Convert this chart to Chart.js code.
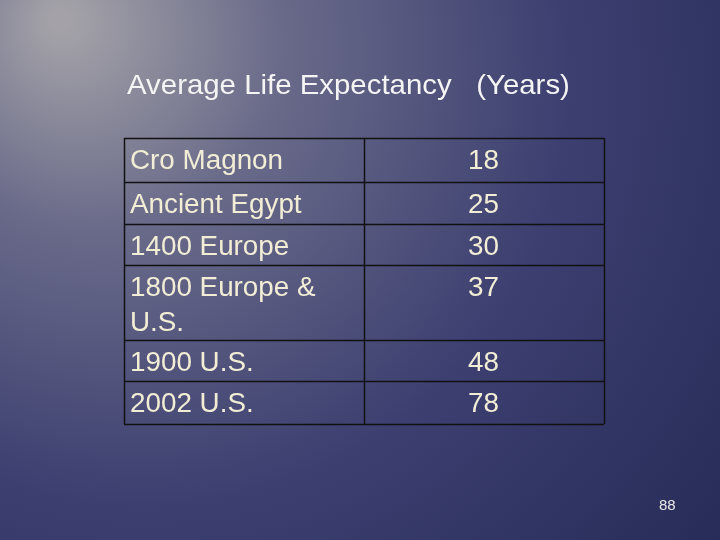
<!DOCTYPE html>
<html><head><meta charset="utf-8">
<script src="https://cdn.jsdelivr.net/npm/chart.js@4"></script>
<style>html,body{margin:0;padding:0;background:#2c2f5a}</style>
</head><body>
<div style="width:720px;height:540px"><canvas id="c"></canvas></div>
<script>
const title = 'Average Life Expectancy   (Years)';
const periods = [['Cro Magnon'], ['Ancient Egypt'], ['1400 Europe'], ['1800 Europe &', 'U.S.'], ['1900 U.S.'], ['2002 U.S.']];
const years = [18, 25, 30, 37, 48, 78];
const rowSizes = [1.07, 1.02, 1.0, 1.82, 1.0, 1.05];
const pageNumber = '88';

let bounds = [0];
rowSizes.forEach(s => bounds.push(bounds[bounds.length - 1] + s));

function wideText(ctx, t, x, y, sx) {
    ctx.save();
    ctx.translate(x, y);
    ctx.scale(sx, 1);
    ctx.fillText(t, 0, 0);
    ctx.restore();
}

const slide = {
    id: 'slide',
    beforeDraw(chart) {
        const { ctx, width, height } = chart;
        ctx.save();
        let g = ctx.createRadialGradient(60, 20, 10, 200, 120, 700);
        g.addColorStop(0, '#a4a2a8');
        g.addColorStop(0.25, '#6a6b8a');
        g.addColorStop(0.6, '#3c3f70');
        g.addColorStop(1, '#262a55');
        ctx.fillStyle = g;
        ctx.fillRect(0, 0, width, height);
        ctx.restore();
    },
    afterDraw(chart) {
        const { ctx, scales: { x, y } } = chart;
        ctx.save();
        ctx.fillStyle = '#f4f4f4';
        ctx.font = '28px "Liberation Sans", Arial';
        ctx.textBaseline = 'alphabetic';
        wideText(ctx, title, 127, 94, 1.05);

        ctx.strokeStyle = '#111';
        ctx.lineWidth = 1.5;
        const l = x.getPixelForValue(0), r = x.getPixelForValue(2), m = x.getPixelForValue(1);
        bounds.forEach(b => {
            const p = Math.round(y.getPixelForValue(b)) + 0.5;
            ctx.beginPath(); ctx.moveTo(l, p); ctx.lineTo(r, p); ctx.stroke();
        });
        [0, 1, 2].forEach(v => {
            const p = Math.round(x.getPixelForValue(v)) + 0.5;
            ctx.beginPath(); ctx.moveTo(p, y.getPixelForValue(0)); ctx.lineTo(p, y.getPixelForValue(bounds[bounds.length - 1])); ctx.stroke();
        });

        ctx.fillStyle = '#f2eed6';
        ctx.font = '27px "Liberation Sans", Arial';
        ctx.textBaseline = 'middle';
        periods.forEach((lines, i) => {
            const top = y.getPixelForValue(bounds[i]);
            lines.forEach((t, k) => wideText(ctx, t, l + 6, top + 24 + k * 35, 1.03));
            wideText(ctx, String(years[i]), m + 104, top + 24, 1.03);
        });

        ctx.fillStyle = '#e8e8e8';
        ctx.font = '15px "Liberation Sans", Arial';
        wideText(ctx, pageNumber, 659, 506, 1.0);
        ctx.restore();
    }
};

new Chart(document.getElementById('c'), {
    type: 'scatter',
    plugins: [slide],
    data: { datasets: [{ data: [], pointRadius: 0 }] },
    options: {
        responsive: true,
        maintainAspectRatio: false,
        animation: false,
        layout: { padding: { left: 124, right: 116, top: 138, bottom: 116 } },
        plugins: { legend: { display: false }, tooltip: { enabled: false } },
        scales: {
            x: { type: 'linear', min: 0, max: 2, display: false },
            y: { type: 'linear', min: 0, max: bounds[bounds.length - 1], reverse: true, display: false }
        }
    }
});
</script>
</body></html>
